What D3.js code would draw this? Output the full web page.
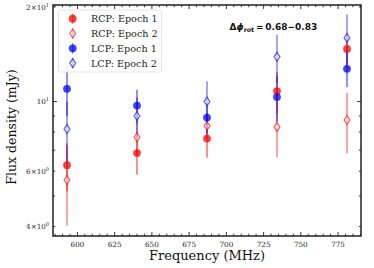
<!DOCTYPE html>
<html><head><meta charset="utf-8">
<script src="https://cdn.jsdelivr.net/npm/d3@7"></script>
<style>
html,body{margin:0;padding:0;background:#fff;}
svg{display:block;}
</style></head>
<body>
<svg id="chart" width="374" height="268"></svg>
<script>
const freqs = [593, 640, 687, 734, 781];
const rcp1 = [6.27, 6.85, 7.62, 10.8, 14.7];
const rcp1Err = [1.1, 1.0, 1.0, 1.65, 1.6];
const rcp2 = [5.62, 7.7, 8.37, 8.3, 8.74];
const rcp2Err = [1.6, 0.9, 0.8, 1.65, 1.9];
const lcp1 = [10.98, 9.71, 8.89, 10.33, 12.71];
const lcp1Err = [2.0, 1.2, 1.0, 1.7, 1.6];
const lcp2 = [8.17, 9.0, 10.0, 13.88, 15.95];
const lcp2Err = [1.8, 1.3, 1.6, 2.4, 3.0];
const seriesNames = ["RCP: Epoch 1", "RCP: Epoch 2", "LCP: Epoch 1", "LCP: Epoch 2"];
const xTicks = [600, 625, 650, 675, 700, 725, 750, 775];
const yLabelTicks = [4, 6, 10, 20];
const yMinorTicks = [4, 5, 6, 7, 8, 9, 20];
const annotation = "0.68\u22120.83";

const svg = d3.select("#chart");
const L = 53, R = 361, T = 5, B = 236;
const x = d3.scaleLinear().domain([583.6, 790.4]).range([L, R]);
const y = d3.scaleLog().domain([3.73, 20.3]).range([B, T]);

const series = [
  {name: seriesNames[0], v: rcp1, e: rcp1Err, color: "#ff0000", shape: "circle", la: 0.55},
  {name: seriesNames[1], v: rcp2, e: rcp2Err, color: "#ff0000", shape: "diamond", la: 0.45},
  {name: seriesNames[2], v: lcp1, e: lcp1Err, color: "#0000ff", shape: "circle", la: 0.55},
  {name: seriesNames[3], v: lcp2, e: lcp2Err, color: "#0000ff", shape: "diamond", la: 0.45},
];

series.forEach(s => {
  svg.append("g").selectAll("line").data(freqs).join("line")
    .attr("x1", (d) => x(d)).attr("x2", (d) => x(d))
    .attr("y1", (d, i) => y(s.v[i] - s.e[i])).attr("y2", (d, i) => y(s.v[i] + s.e[i]))
    .attr("stroke", s.color).attr("stroke-opacity", s.la).attr("stroke-width", 1.6);
});

function drawMarker(g, s, cx, cy) {
  if (s.shape === "circle") {
    g.append("circle").attr("cx", cx).attr("cy", cy).attr("r", 3.9)
      .attr("fill", s.color).attr("fill-opacity", 0.75);
  } else {
    const w = 2.9, h = 4.4;
    g.append("path")
      .attr("d", `M${cx},${cy - h}L${cx + w},${cy}L${cx},${cy + h}L${cx - w},${cy}Z`)
      .attr("fill", "#fff").attr("fill-opacity", 0.55)
      .attr("stroke", s.color).attr("stroke-opacity", 0.6).attr("stroke-width", 1.3);
  }
}

series.forEach(s => {
  const g = svg.append("g");
  freqs.forEach((f, i) => drawMarker(g, s, x(f), y(s.v[i])));
});

svg.append("rect").attr("x", L).attr("y", T).attr("width", R - L).attr("height", B - T)
  .attr("fill", "none").attr("stroke", "#222").attr("stroke-width", 1.5);

const xMinor = d3.range(585, 791, 5);
const tg = svg.append("g").attr("stroke", "#222").attr("stroke-width", 0.9);
xMinor.forEach(v => {
  const major = v % 25 === 0;
  const len = major ? 4 : 2.2;
  tg.append("line").attr("x1", x(v)).attr("x2", x(v)).attr("y1", B).attr("y2", B - len);
  tg.append("line").attr("x1", x(v)).attr("x2", x(v)).attr("y1", T).attr("y2", T + len);
});
yMinorTicks.forEach(v => {
  tg.append("line").attr("x1", L).attr("x2", L + 2.2).attr("y1", y(v)).attr("y2", y(v));
  tg.append("line").attr("x1", R).attr("x2", R - 2.2).attr("y1", y(v)).attr("y2", y(v));
});
[10].forEach(v => {
  tg.append("line").attr("x1", L).attr("x2", L + 4).attr("y1", y(v)).attr("y2", y(v));
  tg.append("line").attr("x1", R).attr("x2", R - 4).attr("y1", y(v)).attr("y2", y(v));
});

const tickFont = "DejaVu Serif";
svg.append("g").selectAll("text").data(xTicks).join("text")
  .attr("x", d => x(d)).attr("y", B + 11)
  .attr("text-anchor", "middle").attr("font-family", tickFont).attr("font-size", 7.2)
  .attr("fill", "#222").text(d => d);

yLabelTicks.forEach(v => {
  const t = svg.append("text").attr("x", L - 4).attr("y", y(v) + 2.5)
    .attr("text-anchor", "end").attr("font-family", tickFont).attr("font-size", 7.2).attr("fill", "#222");
  if (v === 10) {
    t.append("tspan").text("10");
    t.append("tspan").attr("dy", -3).attr("font-size", 5).text("1");
  } else {
    const m = v >= 10 ? v / 10 : v;
    const ex = v >= 10 ? "1" : "0";
    t.append("tspan").text(m + "\u00d710");
    t.append("tspan").attr("dy", -3).attr("font-size", 5).text(ex);
  }
});

svg.append("text").attr("x", (L + R) / 2).attr("y", 260).attr("text-anchor", "middle")
  .attr("font-family", "DejaVu Serif").attr("font-size", 13).attr("fill", "#111")
  .text("Frequency (MHz)");
svg.append("text").attr("transform", `translate(16,127) rotate(-90)`)
  .attr("text-anchor", "middle")
  .attr("font-family", "DejaVu Serif").attr("font-size", 12.5).attr("fill", "#111")
  .text("Flux density (mJy)");

const lg = svg.append("g");
lg.append("rect").attr("x", 58.5).attr("y", 10).attr("width", 103).attr("height", 62).attr("rx", 2)
  .attr("fill", "#fff").attr("fill-opacity", 0.85).attr("stroke", "#ddd").attr("stroke-width", 0.8);
series.forEach((s, i) => {
  const cy = 18.7 + i * 14.8;
  lg.append("line").attr("x1", 72.7).attr("x2", 72.7).attr("y1", cy - 5).attr("y2", cy + 5)
    .attr("stroke", s.color).attr("stroke-opacity", s.la).attr("stroke-width", 1.6);
  drawMarker(lg, s, 72.7, cy);
  lg.append("text").attr("x", 91).attr("y", cy + 3.4).attr("font-family", "DejaVu Serif")
    .attr("font-size", 9.6).attr("fill", "#222").text(s.name);
});

const an = svg.append("text").attr("x", 229.5).attr("y", 30).attr("font-family", "DejaVu Sans")
  .attr("font-size", 9).attr("font-weight", "bold").attr("fill", "#111");
an.append("tspan").text("\u0394");
an.append("tspan").attr("font-style", "italic").text("\u03d5");
an.append("tspan").attr("dy", 2).attr("font-size", 6.3).text("rot");
an.append("tspan").attr("dy", -2).text("\u2009=\u2009" + annotation);
</script>
</body></html>
